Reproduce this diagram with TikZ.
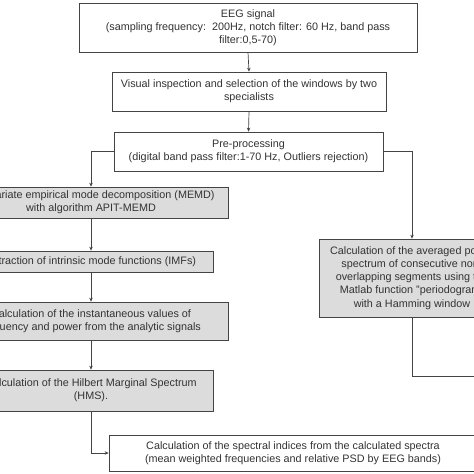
\documentclass[tikz,border=0pt]{standalone}
\usepackage{fontspec}
\setmainfont{Liberation Sans}
\usetikzlibrary{arrows.meta}
\definecolor{boxgray}{HTML}{DCDCDC}
\definecolor{linegray}{HTML}{444444}
\definecolor{txt}{HTML}{333333}
\begin{document}
\begin{tikzpicture}[x=1pt,y=-1pt,
  box/.style={draw=linegray,line width=0.7pt,rectangle,inner sep=0pt,align=center,
    text=txt,font=\fontsize{10.8}{13.2}\selectfont},
  shaded/.style={box,fill=boxgray},
  conn/.style={draw=linegray,line width=0.7pt},
  arr/.style={conn,-{Stealth[length=4pt,width=3.5pt]}}]
\useasboundingbox (0,0) rectangle (474,474);
\fill[white] (0,0) rectangle (474,474);
\clip (0,0) rectangle (474,474);

\node[box,minimum width=338pt,minimum height=49pt] (eeg) at (248,27.5)
  {EEG signal\\(sampling frequency:\ \ 200Hz, notch filter: 60 Hz, band pass\\filter:0,5-70)};
\node[box,minimum width=274pt,minimum height=39pt] (vis) at (249,91.5)
  {Visual inspection and selection of the windows by two\\specialists};
\node[box,minimum width=269pt,minimum height=39pt] (pre) at (248.5,151.5)
  {Pre-processing\\(digital band pass filter:1-70 Hz, Outliers rejection)};
\node[shaded,minimum width=274pt,minimum height=31pt] (memd) at (91,202.5)
  {Multivariate empirical mode decomposition (MEMD)\\with algorithm APIT-MEMD};
\node[shaded,minimum width=244pt,minimum height=21pt] (imf) at (91,261.5)
  {Extraction of intrinsic mode functions (IMFs)};
\node[shaded,minimum width=274pt,minimum height=38pt] (inst) at (91,321)
  {Calculation of the instantaneous values of\\frequency and power from the analytic signals};
\node[shaded,minimum width=244pt,minimum height=41pt] (hms) at (91,390.5)
  {Calculation of the Hilbert Marginal Spectrum\\(HMS).};
\node[shaded,minimum width=186pt,minimum height=78pt] (psd) at (412,278)
  {Calculation of the averaged power\\spectrum of consecutive non-\\overlapping segments using the\\Matlab function "periodogram"\\with a Hamming window};
\node[box,minimum width=368pt,minimum height=36pt] (fin) at (293,453)
  {Calculation of the spectral indices from the calculated spectra\\(mean weighted frequencies and relative PSD by EEG bands)};
\coordinate (offr) at (490,376);

\draw[arr] (eeg.south) -- (vis.north);
\draw[arr] (vis.south) -- (pre.north);
\draw[arr] (pre.west) -| (memd.north);
\draw[arr] (pre.east) -| (psd.north);
\draw[arr] (memd.south) -- (imf.north);
\draw[arr] (imf.south) -- (inst.north);
\draw[arr] (inst.south) -- (hms.north);
\draw[arr] (hms.south) |- (fin.west);
\draw[conn] (psd.south) |- (offr);
\end{tikzpicture}
\end{document}
